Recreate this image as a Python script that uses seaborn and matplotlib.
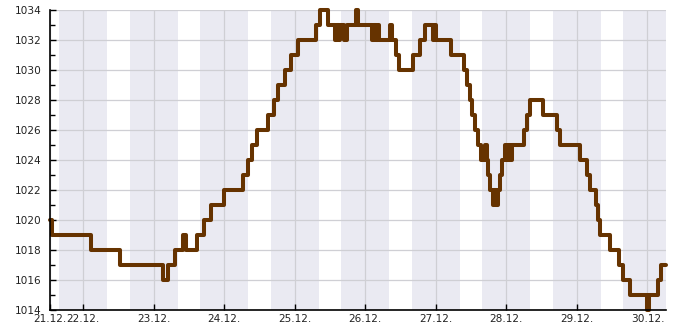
import matplotlib
matplotlib.use("Agg")
import matplotlib.pyplot as plt
import matplotlib.dates as mdates
from matplotlib.ticker import MultipleLocator
import seaborn as sns
import pandas as pd

# ---------------- data ----------------
YEAR = 2023
times = [
    "21.12. 12:46", "21.12. 13:17", "22.12. 02:43", "22.12. 12:35",
    "23.12. 03:13", "23.12. 04:55", "23.12. 07:17", "23.12. 10:01",
    "23.12. 10:52", "23.12. 14:47", "23.12. 17:10", "23.12. 19:26",
    "23.12. 23:47", "24.12. 06:31", "24.12. 08:07", "24.12. 09:19",
    "24.12. 11:17", "24.12. 15:02", "24.12. 16:58", "24.12. 18:20",
    "24.12. 20:43", "24.12. 22:45", "25.12. 01:14", "25.12. 07:15",
    "25.12. 08:37", "25.12. 11:26", "25.12. 13:43", "25.12. 14:24",
    "25.12. 14:55", "25.12. 15:25", "25.12. 16:47", "25.12. 17:41",
    "25.12. 20:52", "25.12. 21:22", "26.12. 02:18", "26.12. 02:59",
    "26.12. 03:40", "26.12. 04:10", "26.12. 04:41", "26.12. 08:25",
    "26.12. 08:56", "26.12. 10:28", "26.12. 11:29", "26.12. 16:21",
    "26.12. 18:31", "26.12. 20:20", "26.12. 22:53", "26.12. 23:23",
    "26.12. 23:54", "27.12. 05:04", "27.12. 09:35", "27.12. 10:43",
    "27.12. 11:38", "27.12. 12:19", "27.12. 13:20", "27.12. 14:28",
    "27.12. 15:23", "27.12. 16:44", "27.12. 17:15", "27.12. 17:40",
    "27.12. 18:20", "27.12. 19:22", "27.12. 19:48", "27.12. 20:19",
    "27.12. 21:16", "27.12. 21:50", "27.12. 22:31", "27.12. 23:32",
    "28.12. 00:03", "28.12. 00:34", "28.12. 01:04", "28.12. 01:45",
    "28.12. 06:00", "28.12. 07:01", "28.12. 08:02", "28.12. 12:34",
    "28.12. 17:07", "28.12. 18:15", "29.12. 01:03", "29.12. 03:16",
    "29.12. 04:17", "29.12. 06:23", "29.12. 07:17", "29.12. 07:51",
    "29.12. 11:15", "29.12. 14:25", "29.12. 15:47", "29.12. 18:04",
    "29.12. 23:50", "30.12. 00:41", "30.12. 03:41", "30.12. 04:26",
    "30.12. 06:18",
]
pressure = [
    1020, 1019, 1018, 1017,
    1016, 1017, 1018, 1019,
    1018, 1019, 1020, 1021,
    1022, 1023, 1024, 1025,
    1026, 1027, 1028, 1029,
    1030, 1031, 1032, 1033,
    1034, 1033, 1032, 1033,
    1032, 1033, 1032, 1033,
    1034, 1033, 1032, 1033,
    1032, 1033, 1032, 1033,
    1032, 1031, 1030, 1031,
    1032, 1033, 1032, 1033,
    1032, 1031, 1030, 1029,
    1028, 1027, 1026, 1025,
    1024, 1025, 1024, 1023,
    1022, 1021, 1022, 1021,
    1022, 1023, 1024, 1025,
    1024, 1025, 1024, 1025,
    1026, 1027, 1028, 1027,
    1026, 1025, 1024, 1023,
    1022, 1021, 1020, 1019,
    1018, 1017, 1016, 1015,
    1014, 1015, 1016, 1017,
    1017,
]
x_start = "21.12. 12:46"
x_end = "30.12. 06:18"
night_dates = ["21.12.", "22.12.", "23.12.", "24.12.", "25.12.",
               "26.12.", "27.12.", "28.12.", "29.12."]
sunset = "15:50"
sunrise = "08:10"
midnight_labels = ["22.12.", "23.12.", "24.12.", "25.12.", "26.12.",
                   "27.12.", "28.12.", "29.12.", "30.12."]
first_label = "21.12."
y_min, y_max = 1014, 1034


def parse(s):
    d, t = s.split()
    day, mon = d.strip(".").split(".")
    return pd.Timestamp(f"{YEAR}-{mon}-{day} {t}")


df = pd.DataFrame({"time": [parse(t) for t in times], "pressure": pressure})

# ---------------- style ----------------
sns.set_theme(style="white")
plt.rcParams["font.family"] = ["DejaVu Sans"]

BAND = "#EAEAF2"
GRID = "#CFCFD4"
LINE = "#663300"

fig = plt.figure(figsize=(6.85, 3.3), dpi=100)
ax = fig.add_axes([50 / 685, 20 / 330, 616 / 685, 300 / 330])
ax.set_facecolor("white")

for d in night_dates:
    start = parse(d + " " + sunset)
    end = parse(d + " " + sunrise) + pd.Timedelta(days=1)
    ax.axvspan(start, end, color=BAND, lw=0, zorder=0)

sns.lineplot(data=df, x="time", y="pressure", drawstyle="steps-post",
             color=LINE, linewidth=2.9, ax=ax, errorbar=None,
             clip_on=False, zorder=3)

ax.set_xlim(parse(x_start), parse(x_end))
ax.set_ylim(y_min, y_max)

xt = [parse(x_start)] + [parse(m + " 00:00") for m in midnight_labels]
ax.set_xticks(xt)
ax.set_xticklabels([first_label] + midnight_labels)

ax.yaxis.set_major_locator(MultipleLocator(2))
ax.yaxis.set_minor_locator(MultipleLocator(1))
ax.yaxis.set_major_formatter(matplotlib.ticker.FormatStrFormatter("%d"))

ax.grid(True, which="major", color=GRID, lw=0.9, zorder=1)
ax.set_axisbelow(True)

for s in ["top", "right"]:
    ax.spines[s].set_visible(False)
for s in ["left", "bottom"]:
    ax.spines[s].set_visible(True)
    ax.spines[s].set_color("black")
    ax.spines[s].set_linewidth(1.2)
    ax.spines[s].set_zorder(4)

ax.tick_params(axis="both", which="major", direction="in", length=4.5,
               width=1, color="black", labelsize=7.6, labelcolor="#222222",
               left=True, bottom=True)
ax.tick_params(axis="y", which="minor", direction="in", length=3.5,
               width=1, color="black", left=True)
ax.tick_params(axis="y", which="major", pad=6)
ax.tick_params(axis="x", which="major", pad=3)

ax.set_xlabel("")
ax.set_ylabel("")
legend = ax.get_legend()
if legend:
    legend.remove()

fig.savefig("out.png", dpi=100)
